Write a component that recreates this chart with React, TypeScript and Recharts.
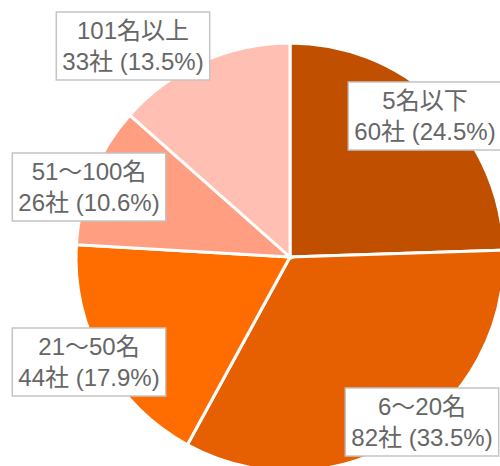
import React from "react";
import { PieChart, Pie, Cell } from "recharts";

// company-size breakdown
const categories = ["5名以下", "6～20名", "21～50名", "51～100名", "101名以上"];
const companies = [60, 82, 44, 26, 33];
const shares = ["24.5", "33.5", "17.9", "10.6", "13.5"];

const COLORS = ["#C05000", "#E65F00", "#FF6D00", "#FF9E80", "#FFBFB2"];

// where each label box sits, relative to the pie centre
const LABEL_OFFSETS = [
  [135, -141],
  [132, 165],
  [-201, 105],
  [-201, -70],
  [-157, -211],
];

const FONT = "'Liberation Sans', Arial, 'Noto Sans CJK JP', sans-serif";
const FONT_SIZE = 24;

const measure = (() => {
  let ctx: CanvasRenderingContext2D | null = null;
  return (s: string) => {
    if (!ctx) {
      ctx = document.createElement("canvas").getContext("2d");
    }
    if (!ctx) return s.length * FONT_SIZE * 0.6;
    ctx.font = `${FONT_SIZE}px ${FONT}`;
    return ctx.measureText(s).width;
  };
})();

const data = categories.map((name, i) => ({
  name,
  value: companies[i],
  share: shares[i],
}));

const BoxLabel = (props: any) => {
  const { cx, cy, index } = props;
  const d = data[index];
  const line1 = d.name;
  const line2 = `${d.value}社 (${d.share}%)`;
  const w = Math.max(measure(line1), measure(line2)) + 12;
  const h = 68;
  const [dx, dy] = LABEL_OFFSETS[index];
  const x = cx + dx;
  const y = cy + dy;
  return (
    <g>
      <rect
        x={x - w / 2}
        y={y - h / 2}
        width={w}
        height={h}
        fill="#fff"
        stroke="#c4c4c4"
        strokeWidth={1.5}
      />
      <text
        x={x}
        y={y - 16}
        textAnchor="middle"
        dominantBaseline="central"
        fill="#666"
        fontSize={FONT_SIZE}
        fontFamily={FONT}
      >
        {line1}
      </text>
      <text
        x={x}
        y={y + 15}
        textAnchor="middle"
        dominantBaseline="central"
        fill="#666"
        fontSize={FONT_SIZE}
        fontFamily={FONT}
      >
        {line2}
      </text>
    </g>
  );
};

export default function App() {
  return (
    <div style={{ position: "absolute", left: 0, top: 0, background: "#fff" }}>
      <PieChart width={500} height={466} margin={{ top: 0, right: 0, bottom: 0, left: 0 }}>
        <Pie
          data={data}
          dataKey="value"
          nameKey="name"
          cx={290}
          cy={257}
          outerRadius={214}
          startAngle={90}
          endAngle={-270}
          stroke="#fff"
          strokeWidth={3}
          label={BoxLabel}
          labelLine={false}
          isAnimationActive={false}
        >
          {data.map((d, i) => (
            <Cell key={d.name} fill={COLORS[i]} />
          ))}
        </Pie>
      </PieChart>
    </div>
  );
}
